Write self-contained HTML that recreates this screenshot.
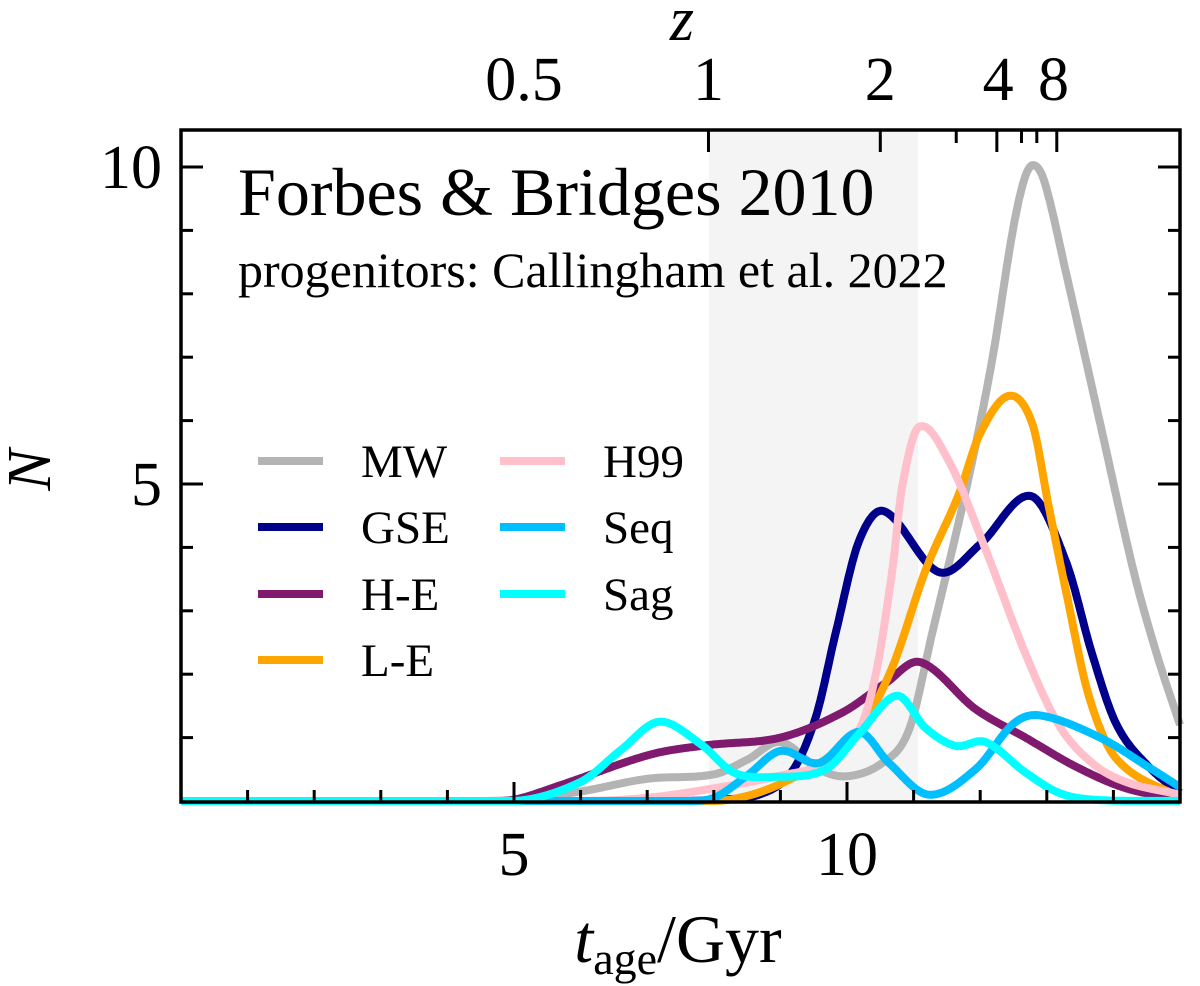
<!DOCTYPE html>
<html><head><meta charset="utf-8">
<style>
html,body{margin:0;padding:0;background:#fff;}
svg{display:block;font-family:"Liberation Serif",serif;}
</style></head>
<body>
<svg id="chart" width="1200" height="986" viewBox="0 0 1200 986" xmlns="http://www.w3.org/2000/svg">
  <rect x="709" y="130" width="209" height="672" fill="#f4f4f4"/>
  <g id="curves"></g>
  <g id="ticks"></g>
  <rect x="181" y="130" width="999" height="672" fill="none" stroke="#000" stroke-width="3.5"/>
  <text x="238" y="215" font-size="68">Forbes &amp; Bridges 2010</text>
  <text x="238" y="287" font-size="50">progenitors: Callingham et al. 2022</text>
  <g id="legend"></g>
  <text x="50" y="470" font-size="62" font-style="italic" text-anchor="middle" transform="rotate(-90 50 470)">N</text>
  <text x="678" y="962" font-size="68" text-anchor="middle"><tspan font-style="italic">t</tspan><tspan font-size="46" dy="12">age</tspan><tspan dy="-12">/Gyr</tspan></text>
  <text x="682" y="40" font-size="62" font-style="italic" text-anchor="middle">z</text>
</svg>
<script>
const xTicksMajor = [5, 10];
const yTicksMajor = [5, 10];
const zLabels = ["0.5", "1", "2", "4", "8"];
const zLabelAges = [5.15, 7.92, 10.5, 12.27, 13.1];
const zTickAges = [7.92, 10.5, 11.64, 12.25, 12.62, 12.85, 13.15];
const zTickMajor = [1, 1, 0, 1, 0, 0, 1];

const names = ["MW", "GSE", "H-E", "L-E", "H99", "Seq", "Sag"];
const colors = ["#b4b4b4", "#00008b", "#7f1a6e", "#ffa500", "#ffc0cb", "#00bfff", "#00ffff"];

const ageMW  = [0, 4.5, 5, 6, 7, 8, 8.5, 9.0, 9.58, 10.0, 10.53, 10.93, 11.28, 11.8, 12.18, 12.48, 12.66, 12.8, 12.97, 13.3, 13.8, 14.3, 14.65, 15];
const valMW  = [0, 0, 0.02, 0.15, 0.35, 0.42, 0.65, 0.93, 0.5, 0.39, 0.6, 1.12, 2.65, 4.97, 6.96, 8.94, 9.8, 10.03, 9.75, 8.28, 5.96, 3.64, 2.32, 1.2];
const ageGSE = [0, 7.5, 8, 8.68, 9.17, 9.53, 9.83, 10.18, 10.56, 11.38, 12.0, 12.76, 13.29, 13.68, 14.05, 14.55, 15];
const valGSE = [0, 0, 0.02, 0.1, 0.46, 1.32, 2.65, 4.1, 4.57, 3.61, 4.05, 4.81, 3.77, 2.32, 1.2, 0.52, 0.13];
const ageHE  = [0, 4.5, 5, 5.7, 7.04, 7.9, 9.0, 9.92, 10.58, 11.1, 11.93, 12.68, 13.44, 14.19, 15];
const valHE  = [0, 0, 0.02, 0.25, 0.73, 0.88, 1.0, 1.39, 1.86, 2.19, 1.45, 1.0, 0.54, 0.2, 0.03];
const ageLE  = [0, 8, 8.5, 9.0, 9.68, 10.18, 10.68, 11.18, 11.68, 12.0, 12.43, 12.78, 13.03, 13.29, 13.63, 14.05, 15];
const valLE  = [0, 0, 0.08, 0.27, 0.66, 1.12, 2.11, 3.64, 4.84, 5.8, 6.39, 5.96, 4.64, 3.3, 1.66, 0.66, 0.05];
const ageH99 = [0, 6, 7, 8, 9, 9.68, 10.18, 10.43, 10.68, 10.83, 11.08, 11.53, 12.08, 12.68, 13.18, 13.68, 14.19, 15];
const valH99 = [0, 0, 0.05, 0.2, 0.4, 0.6, 1.12, 1.99, 3.64, 4.97, 5.9, 5.36, 3.97, 2.32, 1.2, 0.6, 0.3, 0.1];
const ageSeq = [0, 7.5, 8.0, 8.5, 9.0, 9.58, 10.18, 10.63, 11.23, 11.93, 12.5, 12.9, 13.8, 14.55, 15];
const valSeq = [0, 0, 0.05, 0.4, 0.79, 0.6, 1.09, 0.6, 0.1, 0.5, 1.22, 1.35, 1.0, 0.52, 0.22];
const ageSag = [0, 5, 6, 6.6, 7.18, 7.8, 8.3, 8.9, 9.68, 10.18, 10.75, 11.18, 11.63, 12.08, 12.68, 13.18, 13.7, 15];
const valSag = [0, 0, 0.3, 0.8, 1.25, 0.9, 0.45, 0.38, 0.5, 1.06, 1.66, 1.15, 0.87, 0.93, 0.45, 0.13, 0.02, 0];

const seriesAges = [ageMW, ageGSE, ageHE, ageLE, ageH99, ageSeq, ageSag];
const seriesVals = [valMW, valGSE, valHE, valLE, valH99, valSeq, valSag];

const X0 = 181, X1 = 1180, Y0 = 802, YT = 130;
const xScale = t => X0 + t * (X1 - X0) / 15;
const yScale = n => 801 - n * 63.4;
const NS = "http://www.w3.org/2000/svg";
function mk(tag, attrs, parent) {
  const e = document.createElementNS(NS, tag);
  for (const k in attrs) e.setAttribute(k, attrs[k]);
  parent.appendChild(e);
  return e;
}
function hermite(xs, ys) {
  const n = xs.length, m = [];
  for (let i = 0; i < n; i++) {
    if (i === 0) m[i] = (ys[1] - ys[0]) / (xs[1] - xs[0]);
    else if (i === n - 1) m[i] = (ys[n - 1] - ys[n - 2]) / (xs[n - 1] - xs[n - 2]);
    else m[i] = (ys[i + 1] - ys[i - 1]) / (xs[i + 1] - xs[i - 1]);
  }
  return function (x) {
    let i = 0;
    while (i < n - 2 && x > xs[i + 1]) i++;
    const h = xs[i + 1] - xs[i], t = (x - xs[i]) / h;
    const t2 = t * t, t3 = t2 * t;
    return (2 * t3 - 3 * t2 + 1) * ys[i] + (t3 - 2 * t2 + t) * h * m[i] + (-2 * t3 + 3 * t2) * ys[i + 1] + (t3 - t2) * h * m[i + 1];
  };
}
const curves = document.getElementById("curves");
for (let s = 0; s < names.length; s++) {
  const f = hermite(seriesAges[s], seriesVals[s]);
  let d = "";
  for (let t = 0; t <= 15.0001; t += 0.02) {
    d += (d ? " L" : "M") + xScale(t).toFixed(1) + "," + yScale(Math.max(0, f(t))).toFixed(1);
  }
  const p = mk("path", {d: d, fill: "none", stroke: colors[s], "stroke-width": 8, "stroke-linejoin": "round"}, curves);
  
  
}
const ticks = document.getElementById("ticks");
for (let t = 1; t < 15; t++) {
  const x = xScale(t), major = xTicksMajor.includes(t), L = major ? 20 : 12;
  const l = mk("line", {x1: x, x2: x, y1: Y0, y2: Y0 - L, stroke: "#000", "stroke-width": 3}, ticks);
  
  
}
for (const t of xTicksMajor) {
  const tx = mk("text", {x: xScale(t), y: 875, "font-size": 62, "text-anchor": "middle"}, ticks);
  tx.textContent = t;
  
  
}
for (let n = 1; n <= 10; n++) {
  const y = yScale(n), major = yTicksMajor.includes(n), L = major ? 22 : 12;
  mk("line", {x1: X0, x2: X0 + L, y1: y, y2: y, stroke: "#000", "stroke-width": 3}, ticks);
  const r = mk("line", {x1: X1, x2: X1 - L, y1: y, y2: y, stroke: "#000", "stroke-width": 3}, ticks);
  
  
}
for (const n of yTicksMajor) {
  const tx = mk("text", {x: 162, y: yScale(n) + 21, "font-size": 62, "text-anchor": "end"}, ticks);
  tx.textContent = n;
  
  
}
for (let i = 0; i < zTickAges.length; i++) {
  const x = xScale(zTickAges[i]), L = zTickMajor[i] ? 22 : 13;
  const l = mk("line", {x1: x, x2: x, y1: YT, y2: YT + L, stroke: "#000", "stroke-width": 3}, ticks);
  
  
}
for (let i = 0; i < zLabels.length; i++) {
  const tx = mk("text", {x: xScale(zLabelAges[i]), y: 100, "font-size": 62, "text-anchor": "middle"}, ticks);
  tx.textContent = zLabels[i];
  
  
}
const legend = document.getElementById("legend");
const rowsY = [461, 527, 594, 660];
for (let s = 0; s < names.length; s++) {
  const col = s < 4 ? 0 : 1, row = s < 4 ? s : s - 4;
  const lx = col ? 500 : 258, y = rowsY[row];
  const g = mk("g", {}, legend);
  
  
  mk("line", {x1: lx, x2: lx + 65, y1: y, y2: y, stroke: colors[s], "stroke-width": 8}, g);
  const t = mk("text", {x: lx + 103, y: y + 16, "font-size": 47}, g);
  t.textContent = names[s];
}
</script>
</body></html>
